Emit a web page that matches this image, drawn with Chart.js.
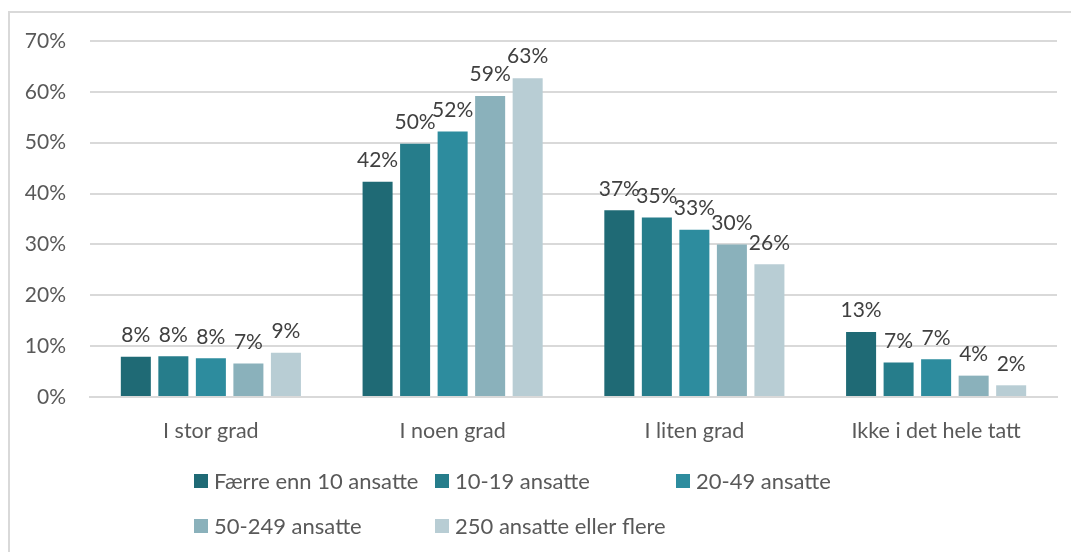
<!DOCTYPE html>
<html>
<head>
<meta charset="utf-8">
<script src="https://cdn.jsdelivr.net/npm/chart.js@4"></script>
<style>
  html, body { margin: 0; padding: 0; background: #fff; overflow: hidden; }
  #wrap { position: absolute; left: 0; top: 0; width: 1071px; height: 552px; }
  #frame { position: absolute; left: 8px; top: 11px; width: 1200px; height: 700px; border: 2px solid #d9d9d9; box-sizing: border-box; }
  canvas { position: absolute; left: 0; top: 0; }
</style>
</head>
<body>
<div id="wrap">
  <div id="frame"></div>
  <canvas id="chart" width="1071" height="552"></canvas>
</div>
<script>
const categories = ["I stor grad", "I noen grad", "I liten grad", "Ikke i det hele tatt"]
const seriesNames = ["Færre enn 10 ansatte", "10-19 ansatte", "20-49 ansatte", "50-249 ansatte", "250 ansatte eller flere"]
const faerre10 = [7.9, 42.3, 36.7, 12.8]
const ans10_19 = [8.0, 49.8, 35.3, 6.8]
const ans20_49 = [7.6, 52.2, 32.9, 7.4]
const ans50_249 = [6.6, 59.2, 30.0, 4.2]
const ans250 = [8.7, 62.7, 26.1, 2.3]
const yTicks = [0, 10, 20, 30, 40, 50, 60, 70]

const colors = ["#1f6a75", "#267d8b", "#2d8c9e", "#8ab1bb", "#b8cdd4"]
const allValues = [faerre10, ans10_19, ans20_49, ans50_249, ans250]
const FONT = "Lato"

// values above each bar
const barLabels = {
    id: "barLabels",
    afterDatasetsDraw(chart) {
        const ctx = chart.ctx
        ctx.save()
        ctx.font = "21px " + FONT
        ctx.fillStyle = "#404040"
        ctx.textAlign = "center"
        ctx.textBaseline = "bottom"
        chart.data.datasets.forEach((ds, i) => {
            chart.getDatasetMeta(i).data.forEach((bar, j) => {
                ctx.fillText(Math.round(ds.data[j]) + "%", bar.x, bar.y - 11)
            })
        })
        ctx.restore()
    }
}

// excel-like legend in a 3 column grid
const gridLegend = {
    id: "gridLegend",
    afterDraw(chart) {
        const ctx = chart.ctx
        ctx.save()
        ctx.font = "22px " + FONT
        ctx.textBaseline = "middle"
        chart.data.datasets.forEach((ds, i) => {
            const col = i % 3
            const row = Math.floor(i / 3)
            const x = 194 + col * 241
            const y = 481 + row * 45
            ctx.fillStyle = ds.backgroundColor
            ctx.fillRect(x, y - 7, 14, 14)
            ctx.fillStyle = "#595959"
            ctx.fillText(ds.label, x + 20, y + 1)
        })
        ctx.restore()
    }
}

new Chart("chart", {
    type: 'bar',
    data: {
        labels: categories,
        datasets: seriesNames.map((name, i) => ({
            label: name,
            data: allValues[i],
            backgroundColor: colors[i],
            categoryPercentage: 0.776,
            barPercentage: 0.8
        }))
    },
    plugins: [barLabels, gridLegend],
    options: {
        responsive: false,
        animation: false,
        layout: { padding: { left: 0, right: 14, top: 41, bottom: 100 } },
        plugins: {
            legend: { display: false },
            tooltip: { enabled: false }
        },
        scales: {
            x: {
                grid: { display: false },
                border: { color: "#d9d9d9", width: 2 },
                ticks: { color: "#595959", font: { family: FONT, size: 21.5 }, padding: 13 },
                afterFit(scale) { scale.height = 55 }
            },
            y: {
                min: 0,
                max: 70,
                afterBuildTicks(scale) { scale.ticks = yTicks.map(v => ({ value: v })) },
                grid: { color: "#d9d9d9", lineWidth: 2, drawTicks: false },
                border: { display: false },
                ticks: {
                    color: "#595959",
                    font: { family: FONT, size: 21 },
                    padding: 24,
                    callback: v => v + "%"
                },
                afterFit(scale) { scale.width = 90 }
            }
        }
    }
});
</script>
</body>
</html>
